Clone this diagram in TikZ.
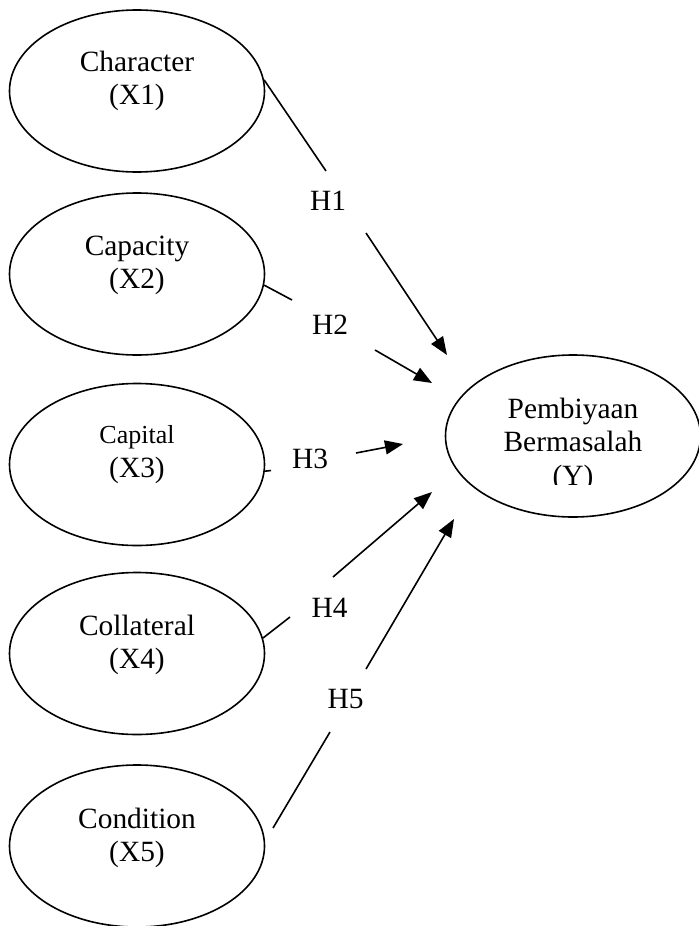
\documentclass[tikz,border=0pt]{standalone}
\usepackage{fontspec}
\setmainfont{Liberation Serif}
\usetikzlibrary{shapes.geometric,arrows.meta}

\begin{document}
\begin{tikzpicture}[x=0.5pt,y=-0.5pt,
    var/.style={draw, ellipse, line width=0.8pt, minimum width=127.5pt, minimum height=81pt, inner sep=0pt},
    lbl/.style={align=center, font=\fontsize{14.7}{16.75}\selectfont, inner sep=0pt, anchor=base},
    hyp/.style={font=\fontsize{14.7}{16.75}\selectfont, inner sep=0pt, anchor=base},
    link/.style={line width=0.8pt},
    arr/.style={line width=0.8pt, -{Triangle[length=9pt,width=7pt]}}]

    % Page frame (pixel-like units, y downwards)
    \useasboundingbox (0,0) rectangle (699,926);

    % The five independent variables and the dependent one
    \node[var] (x1) at (137,91) {};
    \node[var] (x2) at (137,274) {};
    \node[var] (x3) at (137,464.5) {};
    \node[var] (x4) at (137,653.5) {};
    \node[var] (x5) at (137,846) {};
    \node[var] (y) at (573,436) {};

    % Texts sit in the upper part of each ellipse (base = last line)
    \node[lbl] (t1) at (137,104.5) {Character\\(X1)};
    \node[lbl] (t2) at (137,288.5) {Capacity\\(X2)};
    \node[lbl] (t3) at (137,477) {{\fontsize{13}{16.75}\selectfont Capital}\\(X3)};
    \node[lbl] (t4) at (137,668.5) {Collateral\\(X4)};
    \node[lbl] (t5) at (137,861.5) {Condition\\(X5)};

    % The text box of Y cuts its last line
    \begin{scope}
        \clip (447,355) rectangle (699,484);
        \node[lbl] (ty) at (573,485) {Pembiyaan\\Bermasalah\\(Y)};
    \end{scope}

    % Hypothesis labels
    \node[hyp] (h1) at (328,210) {H1};
    \node[hyp] (h2) at (330,334) {H2};
    \node[hyp] (h3) at (310,468) {H3};
    \node[hyp] (h4) at (329.5,617) {H4};
    \node[hyp] (h5) at (345.5,708) {H5};

    % Ends of the broken lines around the labels
    \coordinate (h1a) at (326,171);
    \coordinate (h1b) at (366,233);
    \coordinate (h1c) at (447,355);
    \coordinate (h2a) at (292,300);
    \coordinate (h2b) at (375,350);
    \coordinate (h2c) at (432,383);
    \coordinate (h3a) at (271,470.5);
    \coordinate (h3b) at (356,453);
    \coordinate (h3c) at (403,444);
    \coordinate (h4a) at (290,617);
    \coordinate (h4b) at (333,577);
    \coordinate (h4c) at (432,492);
    \coordinate (h5s) at (273,828);
    \coordinate (h5a) at (330,732);
    \coordinate (h5b) at (366,669);
    \coordinate (h5c) at (454,519);

    % H1 to H5
    \draw[link] (x1.5) -- (h1a);
    \draw[arr] (h1b) -- (h1c);
    \draw[link] (x2.-5) -- (h2a);
    \draw[arr] (h2b) -- (h2c);
    \draw[link] (x3.-3) -- (h3a);
    \draw[arr] (h3b) -- (h3c);
    \draw[link] (x4.7) -- (h4a);
    \draw[arr] (h4b) -- (h4c);
    \draw[link] (h5s) -- (h5a);
    \draw[arr] (h5b) -- (h5c);

\end{tikzpicture}
\end{document}
